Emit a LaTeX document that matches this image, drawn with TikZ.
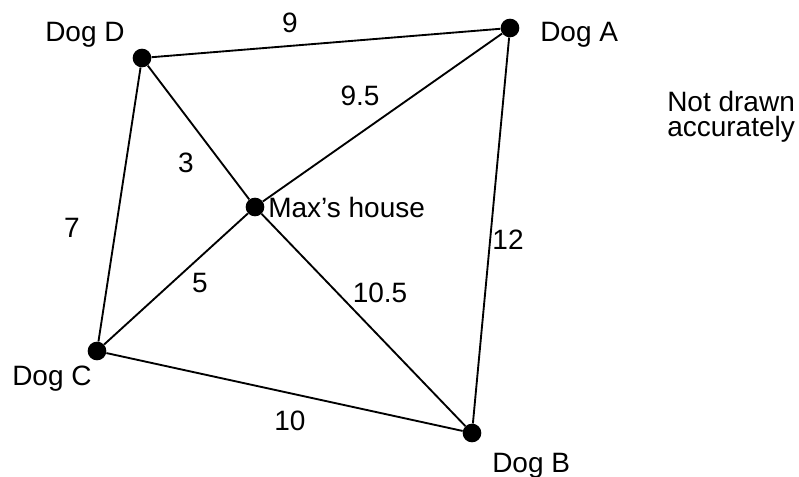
\documentclass[tikz,border=0pt]{standalone}
\usepackage{fontspec}
\setmainfont{Liberation Sans}
\usetikzlibrary{positioning}

\begin{document}
\begin{tikzpicture}[
  x=0.75pt, y=-0.75pt,
  every node/.style={font=\fontsize{21}{24}\selectfont},
  dot/.style={circle, fill=black, inner sep=0pt, minimum size=14pt},
  link/.style={line width=1.4pt},
  tag/.style={anchor=base west, inner sep=0pt},
  num/.style={inner sep=0pt}
]
\useasboundingbox (0,0) rectangle (799,477);

%% Dogs and house
\node[dot] (dogA) at (510,28) {};
\node[dot] (dogB) at (472,433) {};
\node[dot] (dogC) at (97,351) {};
\node[dot] (dogD) at (142,58) {};
\node[dot] (house) at (255,207) {};

%% Names
\node[tag] (nameA) at (540,42) {Dog A};
\node[tag] (nameB) at (492,472) {Dog B};
\node[tag] (nameC) at (12,385) {Dog C};
\node[tag] (nameD) at (45,42) {Dog D};
\node[tag] (nameH) at (268,218) {Max's house};
\node[anchor=north west, inner sep=0pt, align=left,
      font=\fontsize{21}{19}\selectfont] (note) at (667,91) {Not drawn\\accurately};

%% Routes
\draw[link] (dogD) -- (dogA);
\draw[link] (dogA) -- (dogB);
\draw[link] (dogB) -- (dogC);
\draw[link] (dogC) -- (dogD);
\draw[link] (dogD) -- (house);
\draw[link] (house) -- (dogB);
\draw[link] (dogA) -- (house);
\draw[link] (house) -- (dogC);

%% Distances
\node[num] (dDA) at (290,23) {9};
\node[num] (dHA) at (360,96) {9.5};
\node[num] (dDH) at (186,163) {3};
\node[num] (dCD) at (72,228) {7};
\node[num] (dAB) at (508,240) {12};
\node[num] (dCH) at (200,283) {5};
\node[num] (dHB) at (380,293) {10.5};
\node[num] (dBC) at (290,421) {10};

\end{tikzpicture}
\end{document}
